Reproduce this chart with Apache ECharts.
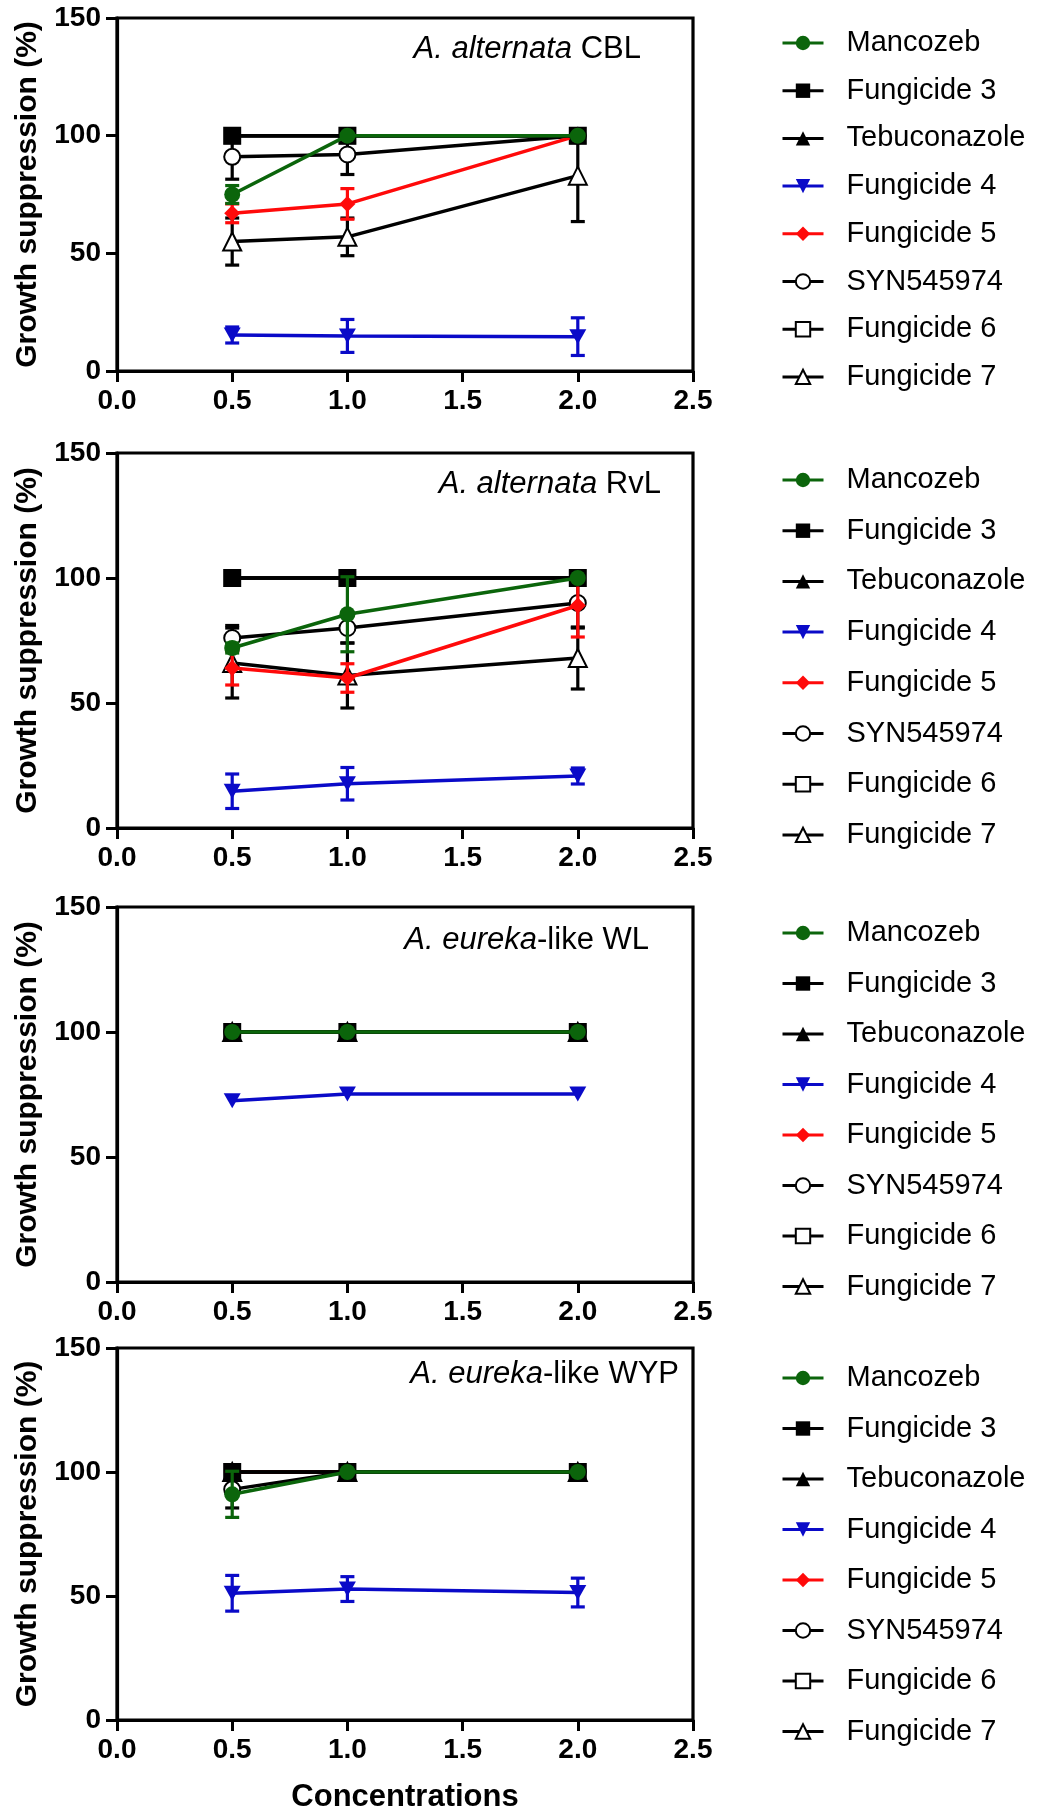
<!DOCTYPE html>
<html>
<head>
<meta charset="utf-8">
<script src="https://cdn.jsdelivr.net/npm/echarts@6/dist/echarts.min.js"></script>
<style>
html, body { margin: 0; padding: 0; background: #fff; }
#chart { width: 1038px; height: 1812px; }
</style>
</head>
<body>
<div id="chart"></div>
<script>
// Concentrations tested and compound names (legend order)
const concentrations = [0.5, 1.0, 2.0];
const compounds = ['Mancozeb', 'Fungicide 3', 'Tebuconazole', 'Fungicide 4',
                   'Fungicide 5', 'SYN545974', 'Fungicide 6', 'Fungicide 7'];
const xTicks = [0.0, 0.5, 1.0, 1.5, 2.0, 2.5];
const yTicks = [0, 50, 100, 150];

// Isolate names: italic species part + plain suffix
const isolateSpecies = ['A. alternata', 'A. alternata', 'A. eureka', 'A. eureka'];
const isolateSuffix = [' CBL', ' RvL', '-like WL', '-like WYP'];

// Mean growth suppression (%) per compound, rows follow `compounds`
const cblMeans = [
  [75, 100, 100], [100, 100, 100], [100, 100, 100], [15.3, 14.9, 14.6],
  [67, 71, 100], [91, 92, 100], [100, 100, 100], [55, 57, 83]
];
const cblErrors = [
  [3.8, 0, 0], [0, 0, 0], [0, 0, 0], [3.4, 7, 8],
  [4, 6.5, 0], [9.5, 8.5, 0], [0, 0, 0], [10, 8, 19.5]
];
const rvlMeans = [
  [72, 85.5, 100], [100, 100, 100], [100, 100, 100], [14.7, 17.7, 20.8],
  [64, 60, 89], [76, 80, 90], [100, 100, 100], [66, 61, 68]
];
const rvlErrors = [
  [2, 15, 0], [0, 0, 0], [0, 0, 0], [6.9, 6.5, 3.2],
  [6.8, 5.7, 12.6], [5, 6, 10], [0, 0, 0], [14, 13, 12.4]
];
const wlMeans = [
  [100, 100, 100], [100, 100, 100], [100, 100, 100], [72.5, 75.2, 75.2],
  [100, 100, 100], [100, 100, 100], [100, 100, 100], [100, 100, 100]
];
const wlErrors = [
  [0, 0, 0], [0, 0, 0], [0, 0, 0], [0, 0, 0],
  [0, 0, 0], [0, 0, 0], [0, 0, 0], [0, 0, 0]
];
const wypMeans = [
  [91, 100, 100], [100, 100, 100], [100, 100, 100], [51.1, 52.8, 51.4],
  [100, 100, 100], [93, 100, 100], [100, 100, 100], [100, 100, 100]
];
const wypErrors = [
  [9.3, 0, 0], [0, 0, 0], [0, 0, 0], [7.2, 5, 5.8],
  [0, 0, 0], [7.5, 0, 0], [0, 0, 0], [0, 0, 0]
];

const panelMeans = [cblMeans, rvlMeans, wlMeans, wypMeans];
const panelErrors = [cblErrors, rvlErrors, wlErrors, wypErrors];

// ---- styling ----
const FONT = '"Liberation Sans", Arial, Helvetica, sans-serif';
const GREEN = '#0b650b', BLUE = '#0a0ac8', RED = '#ff0a0a', BLACK = '#000';
const invTriangle = 'path://M0,0 L20,0 L10,17 Z';
const seriesStyle = [
  { color: GREEN, symbol: 'circle', size: 16 },
  { color: BLACK, symbol: 'rect', size: 16 },
  { color: BLACK, symbol: 'triangle', size: 17 },
  { color: BLUE, symbol: invTriangle, size: [17, 15] },
  { color: RED, symbol: 'diamond', size: 16 },
  { color: BLACK, symbol: 'emptyCircle', size: 16 },
  { color: BLACK, symbol: 'emptyRect', size: 16 },
  { color: BLACK, symbol: 'emptyTriangle', size: 18 }
];

const panelLayout = [
  { top: 18, bottom: 371, legendTop: 28, legendGap: 17.7, noteRight: 641, noteY: 52 },
  { top: 453, bottom: 828, legendTop: 465, legendGap: 20.7, noteRight: 661, noteY: 487 },
  { top: 907, bottom: 1282, legendTop: 918, legendGap: 20.5, noteRight: 649, noteY: 943 },
  { top: 1348, bottom: 1720, legendTop: 1363, legendGap: 20.5, noteRight: 679, noteY: 1377 }
];
const PLOT_LEFT = 117, PLOT_RIGHT = 693;

function errorBarRenderer(color) {
  return function (params, api) {
    const x = api.value(0), y = api.value(1), e = api.value(2);
    if (!e) return null;
    const hi = api.coord([x, y + e]);
    const lo = api.coord([x, y - e]);
    const w = 7;
    const style = { stroke: color, lineWidth: 3.2, fill: null };
    return {
      type: 'group',
      children: [
        { type: 'line', shape: { x1: hi[0], y1: hi[1], x2: lo[0], y2: lo[1] }, style: style },
        { type: 'line', shape: { x1: hi[0] - w, y1: hi[1], x2: hi[0] + w, y2: hi[1] }, style: style },
        { type: 'line', shape: { x1: lo[0] - w, y1: lo[1], x2: lo[0] + w, y2: lo[1] }, style: style }
      ]
    };
  };
}

const grids = [], xAxes = [], yAxes = [], legends = [], series = [], graphics = [];

panelLayout.forEach(function (L, p) {
  grids.push({
    left: PLOT_LEFT, width: PLOT_RIGHT - PLOT_LEFT, top: L.top, height: L.bottom - L.top,
    show: true, borderColor: BLACK, borderWidth: 3.2, backgroundColor: 'transparent'
  });
  xAxes.push({
    gridIndex: p, type: 'value', min: xTicks[0], max: xTicks[xTicks.length - 1],
    interval: xTicks[1] - xTicks[0],
    axisLine: { show: true, onZero: false, lineStyle: { color: BLACK, width: 3.2 } },
    axisTick: { show: true, length: 11, lineStyle: { color: BLACK, width: 3 } },
    splitLine: { show: false },
    axisLabel: {
      color: BLACK, fontFamily: FONT, fontWeight: 'bold', fontSize: 28, margin: 16,
      formatter: function (v) { return v.toFixed(1); }
    }
  });
  yAxes.push({
    gridIndex: p, type: 'value', min: yTicks[0], max: yTicks[yTicks.length - 1],
    interval: yTicks[1] - yTicks[0],
    axisLine: { show: true, onZero: false, lineStyle: { color: BLACK, width: 3.2 } },
    axisTick: { show: true, length: 11, lineStyle: { color: BLACK, width: 3 } },
    splitLine: { show: false },
    axisLabel: { color: BLACK, fontFamily: FONT, fontWeight: 'bold', fontSize: 28, margin: 16 }
  });
  legends.push({
    orient: 'vertical', left: 781, top: L.legendTop, padding: 0,
    itemWidth: 41, itemHeight: 18, itemGap: L.legendGap,
    selectedMode: false,
    lineStyle: { width: 3 },
    textStyle: { color: BLACK, fontFamily: FONT, fontSize: 29, lineHeight: 30, padding: [0, 0, 0, 18] },
    data: compounds
  });

  const means = panelMeans[p], errs = panelErrors[p];
  compounds.forEach(function (name, i) {
    const st = seriesStyle[i];
    const zBase = 40 - i * 4;
    series.push({
      type: 'custom', name: name + ' SD', xAxisIndex: p, yAxisIndex: p,
      z: zBase - 1, silent: true,
      renderItem: errorBarRenderer(st.color),
      encode: { x: 0, y: 1 },
      data: concentrations.map(function (c, k) { return [c, means[i][k], errs[i][k]]; })
    });
    series.push({
      type: 'line', name: name, xAxisIndex: p, yAxisIndex: p, z: zBase,
      symbol: st.symbol, symbolSize: st.size, showSymbol: true,
      lineStyle: { color: st.color, width: 3.5 },
      itemStyle: { color: st.color, borderColor: st.color, borderWidth: st.symbol.indexOf('empty') === 0 ? 3 : 0 },
      emphasis: { disabled: true },
      data: concentrations.map(function (c, k) { return [c, means[i][k]]; })
    });
  });

  // isolate name inside the plot
  graphics.push({
    type: 'text', right: 1038 - L.noteRight, top: L.noteY - 18,
    style: {
      text: '{i|' + isolateSpecies[p] + '}{n|' + isolateSuffix[p] + '}',
      rich: {
        i: { fontStyle: 'italic', fontFamily: FONT, fontSize: 31, fill: BLACK },
        n: { fontFamily: FONT, fontSize: 31, fill: BLACK }
      }
    }
  });
  // y-axis title
  graphics.push({
    type: 'text', x: 28, y: (L.top + L.bottom) / 2, rotation: Math.PI / 2,
    style: {
      text: 'Growth suppression (%)', fontFamily: FONT, fontWeight: 'bold', fontSize: 30,
      fill: BLACK, align: 'center', verticalAlign: 'middle'
    }
  });
});

// x-axis title under the last panel
graphics.push({
  type: 'text', x: (PLOT_LEFT + PLOT_RIGHT) / 2, y: 1797,
  style: {
    text: 'Concentrations', fontFamily: FONT, fontWeight: 'bold', fontSize: 31,
    fill: BLACK, align: 'center', verticalAlign: 'middle'
  }
});

const chart = echarts.init(document.getElementById('chart'), null, { renderer: 'canvas' });
chart.setOption({
  animation: false,
  backgroundColor: '#fff',
  grid: grids,
  xAxis: xAxes,
  yAxis: yAxes,
  legend: legends,
  series: series,
  graphic: graphics
});
</script>
</body>
</html>
